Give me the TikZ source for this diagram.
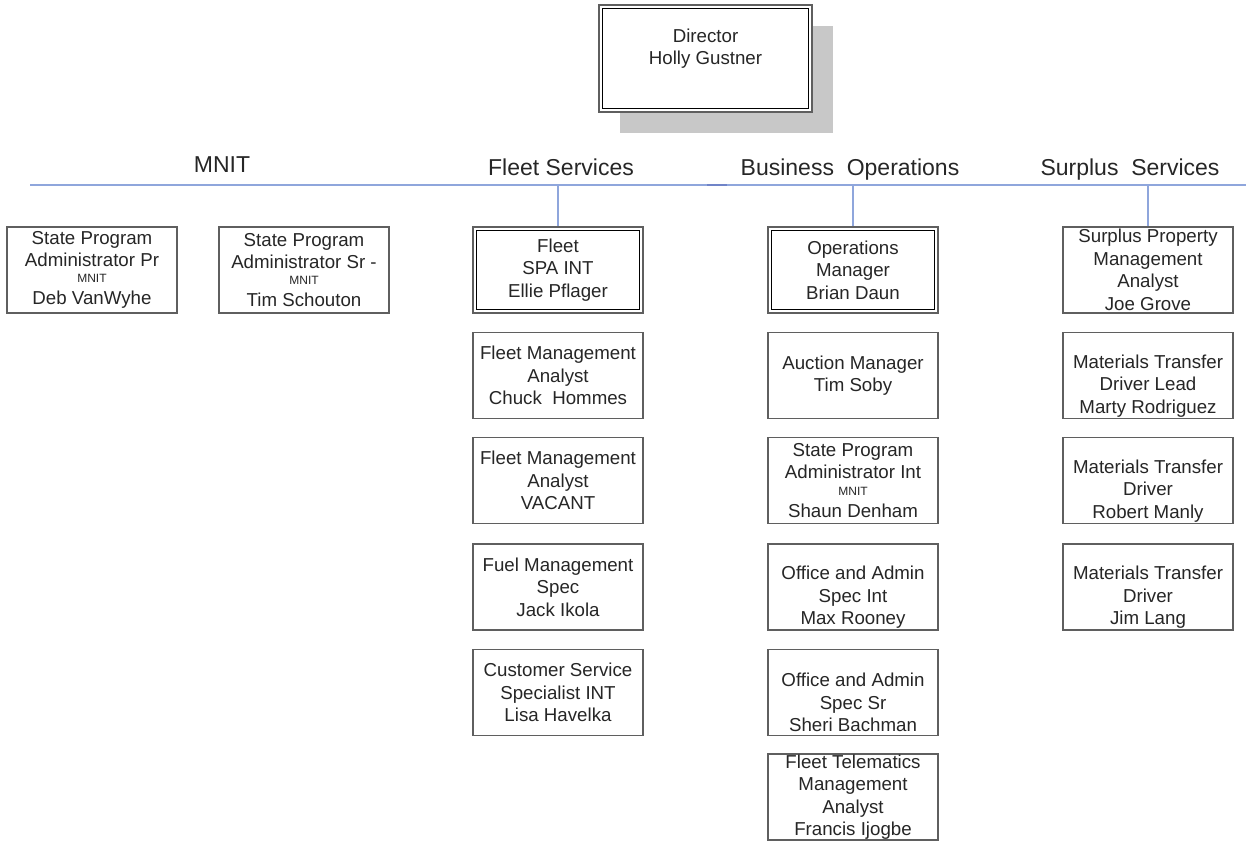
\documentclass[tikz,border=0pt]{standalone}
\usepackage{fontspec}
\setmainfont{Liberation Sans}
\usetikzlibrary{calc,shadows}

\definecolor{bus}{RGB}{143,166,220}
\definecolor{busdark}{RGB}{112,132,200}
\definecolor{frame}{RGB}{95,95,95}
\definecolor{ink}{RGB}{38,38,38}
\definecolor{shade}{RGB}{200,200,200}

% small "MNIT" tag inside a box
\newcommand\tagmnit{{\fontsize{12}{14}\selectfont MNIT}}
% taller first line: pushes a box's text block down
\newcommand\lowfirst{\rule{0pt}{34pt}}

\begin{document}
\begin{tikzpicture}[x=1pt,y=-1pt,
  every node/.style={font=\fontsize{18.7}{22.5}\selectfont, text=ink,
    align=center, inner sep=0pt},
  post/.style={draw=frame, line width=1.8pt, fill=white,
    minimum width=170pt, minimum height=86pt},
  headpost/.style={post, line width=2.2pt},
  inner frame/.style={draw=black, line width=1.1pt},
  heading/.style={font=\fontsize{23}{27}\selectfont, anchor=base},
  link/.style={draw=bus, line width=2pt}
]
\useasboundingbox (0,0) rectangle (1246,840);

% ---- director ----
\node[headpost, minimum width=213pt, minimum height=107pt,
  drop shadow={shadow xshift=21pt, shadow yshift=-21pt, fill=shade,
    opacity=1, draw=none}] (dir) at (705.5,58.5) {};
\node (dirtext) at ($(dir.center)+(0,-10)$) {Director\\Holly Gustner};

% ---- division line and headings ----
\coordinate (busW) at (30,185);
\coordinate (busE) at (1246,185);
\coordinate (busA) at (707,185);
\coordinate (busB) at (727,185);
\draw[link] (busW) -- (busE);
\draw[draw=busdark, line width=2.4pt] (busA) -- (busB);

\node[heading] (hM) at (222,172) {MNIT};
\node[heading] (hF) at (561,175) {Fleet Services};
\node[heading] (hB) at (850,175) {Business\ \ Operations};
\node[heading] (hS) at (1130,175) {Surplus\ \ Services};

% ---- MNIT ----
\node[post] (m1) at (92,270) {State Program\\Administrator Pr\\[-7pt]\tagmnit\\Deb VanWyhe};
\node[post] (m2) at (304,270) {State Program\\Administrator Sr -\\[-7pt]\tagmnit\\Tim Schouton};

% ---- Fleet Services ----
\node[headpost] (f1) at (558,270) {Fleet\\SPA INT\\Ellie Pflager};
\node[post] (f2) at (558,375.5) {Fleet Management\\Analyst\\Chuck\ \ Hommes};
\node[post] (f3) at (558,480.5) {Fleet Management\\Analyst\\VACANT};
\node[post] (f4) at (558,587) {Fuel Management\\Spec\\Jack Ikola};
\node[post] (f5) at (558,692.5) {Customer Service\\Specialist INT\\Lisa Havelka};

% ---- Business Operations ----
\node[headpost] (b1) at (853,270) {Operations\\Manager\\Brian Daun};
\node[post] (b2) at (853,375.5) {Auction Manager\\Tim Soby};
\node[post] (b3) at (853,480.5) {State Program\\Administrator Int\\[-6pt]\tagmnit\\Shaun Denham};
\node[post] (b4) at (853,587) {\lowfirst Office and Admin\\Spec Int\\Max Rooney};
\node[post] (b5) at (853,692.5) {\lowfirst Office and Admin\\Spec Sr\\Sheri Bachman};
\node[post] (b6) at (853,797) {Fleet Telematics\\Management\\Analyst\\Francis Ijogbe};

% ---- Surplus Services ----
\node[post] (s1) at (1148,270) {Surplus Property\\Management\\Analyst\\Joe Grove};
\node[post] (s2) at (1148,375.5) {\lowfirst Materials Transfer\\Driver Lead\\Marty Rodriguez};
\node[post] (s3) at (1148,480.5) {\lowfirst Materials Transfer\\Driver\\Robert Manly};
\node[post] (s4) at (1148,587) {\lowfirst Materials Transfer\\Driver\\Jim Lang};

% inner rule of the double-framed boxes
\foreach \n in {dir,f1,b1}
  \draw[inner frame] ($(\n.north west)+(4.5,4.5)$) rectangle ($(\n.south east)+(-4.5,-4.5)$);

% drops from the division line
\draw[link] (f1.north) -- (f1.north |- busW);
\draw[link] (b1.north) -- (b1.north |- busW);
\draw[link] (s1.north) -- (s1.north |- busW);

\end{tikzpicture}
\end{document}
